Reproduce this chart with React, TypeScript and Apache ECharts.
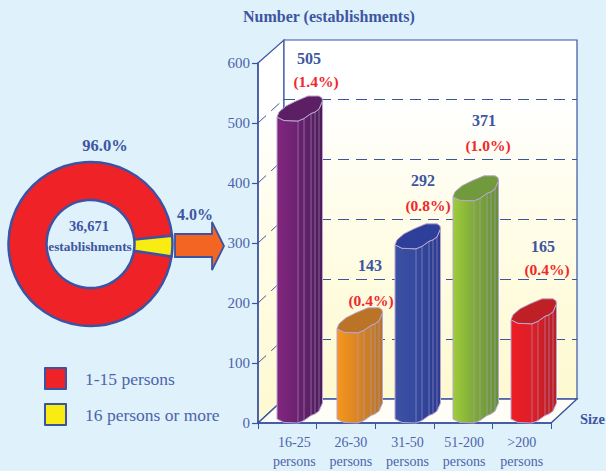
import React, { useEffect, useRef } from "react";
import * as echarts from "echarts";

const categories = ["16-25\npersons", "26-30\npersons", "31-50\npersons", "51-200\npersons", ">200\npersons"];
const values = [505, 143, 292, 371, 165];
const shares = ["(1.4%)", "(0.4%)", "(0.8%)", "(1.0%)", "(0.4%)"];
// Heights of the drawn columns as read against the axis.
const drawnHeights = [510, 157, 297, 377, 172];
const yTicks = [100, 200, 300, 400, 500];
const pieNames = ["1-15 persons", "16 persons or more"];
const pieValues = [96, 4];
const pieLabels = ["96.0%", "4.0%"];
const totalLabel = "36,671";
const totalUnit = "establishments";

const BG = "#dff1fa";
const BLUE = "#3b53a4";
const TXT = "#4c64ad";
const BOLD = "#3d55a2";
const RED = "#f0282d";
const SERIF = "'Liberation Serif', 'Times New Roman', serif";

const GL = 258, GT = 63, GW = 293, GH = 360;
const DX = 26, DY = -24;
const backL = GL + DX, backR = GL + GW + DX, backT = 40, backB = GT + GH + DY;

const barPalette = [
  { a: "#82267f", b: "#6b2270", c: "#4d1c5a", top: "#5c1f63" },
  { a: "#f7961d", b: "#d98524", c: "#b5742a", top: "#bb7427" },
  { a: "#3c51a3", b: "#344a9f", c: "#2a3a90", top: "#2e3f9a" },
  { a: "#9fcd3a", b: "#80aa3b", c: "#64903a", top: "#709a3c" },
  { a: "#ee1c25", b: "#dc1f27", c: "#b81f28", top: "#be2026" },
];
const labelLayout = [
  [309, 58, 316, 81],
  [370, 265, 371, 300],
  [423, 180, 428, 205],
  [484, 120, 488, 145],
  [543, 246, 547, 269],
];
const labelPad = [14, 10, 6, 2, 0];
const barOffsets = [-10.3, -8.9, -9.5, -10.1, -10.7];

const frontArc = [[0, 0], [7, 3.5], [21, 4], [27, 1.5], [34, -3.5], [38, -5], [42, -8], [45.5, -16]];
const backArc = [[45, -19], [42, -21], [31, -21], [19, -16], [9, -11], [2, -5]];
const stripes = [2, 3, 4, 5, 6];

function renderBar(params: any, api: any) {
  const i = api.value(0);
  const h = api.value(1);
  const [cx, topY] = api.coord([i, h]);
  const [, zeroY] = api.coord([i, 0]);
  const x = cx + barOffsets[i];
  const baseY = zeroY - 4;
  const p = barPalette[i];
  const stroke = "#b9a5d0";
  const body = [
    ...frontArc.map(([dx, dy]) => [x + dx, topY + dy]),
    ...frontArc.slice().reverse().map(([dx, dy]) => [x + dx, baseY + dy]),
  ];
  const children: any[] = [
    {
      type: "polygon",
      shape: { points: body },
      style: {
        fill: new echarts.graphic.LinearGradient(0, 0, 1, 0, [
          { offset: 0, color: p.a },
          { offset: 0.45, color: p.b },
          { offset: 1, color: p.c },
        ]),
        stroke,
        lineWidth: 1,
      },
    },
    ...stripes.map((k) => ({
      type: "polyline",
      shape: {
        points: [
          [x + frontArc[k][0], topY + frontArc[k][1]],
          [x + frontArc[k][0], baseY + frontArc[k][1]],
        ],
      },
      style: { stroke, lineWidth: 0.7, fill: "none", opacity: 0.75 },
    })),
    {
      type: "polygon",
      shape: {
        points: [...frontArc, ...backArc].map(([dx, dy]) => [x + dx, topY + dy]),
      },
      style: { fill: p.top, stroke, lineWidth: 1 },
    },
    {
      type: "text",
      style: {
        text: String(values[i]),
        x: labelLayout[i][0],
        y: labelLayout[i][1],
        fill: BOLD,
        fontFamily: SERIF,
        fontWeight: "bold",
        fontSize: 16,
        align: "center",
        verticalAlign: "middle",
      },
    },
    {
      type: "text",
      style: {
        text: shares[i],
        x: labelLayout[i][2],
        y: labelLayout[i][3],
        fill: RED,
        fontFamily: SERIF,
        fontWeight: "bold",
        fontSize: 15.5,
        align: "center",
        verticalAlign: "middle",
      },
    },
  ];
  return { type: "group", children };
}

function renderGridLine(params: any, api: any) {
  const v = api.value(1);
  const [, y] = api.coord([0, v]);
  const style = { stroke: BLUE, lineWidth: 1, lineDash: [11, 7], fill: "none" };
  const by = Math.floor(y + DY) + 0.5;
  return {
    type: "group",
    children: [
      { type: "polyline", shape: { points: [[GL, y], [GL + DX, y + DY]] }, style },
      { type: "polyline", shape: { points: [[backL, by], [backR, by]] }, style },
    ],
  };
}

const wallFill = {
  type: "linear",
  x: 0,
  y: 0,
  x2: 0,
  y2: 1,
  colorStops: [
    { offset: 0, color: "#ffffff" },
    { offset: 0.18, color: "#ffffff" },
    { offset: 0.5, color: "#fffde8" },
    { offset: 1, color: "#fdf9d0" },
  ],
};

export default function App() {
  const ref = useRef<HTMLDivElement>(null);
  useEffect(() => {
    const chart = echarts.init(ref.current!, undefined, { renderer: "svg" });
    const text = (t: string, x: number, y: number, size: number, fill: string, bold = true, align = "center") => ({
      type: "text",
      z: 10,
      style: {
        text: t,
        x,
        y,
        fill,
        fontFamily: SERIF,
        fontWeight: bold ? "bold" : "normal",
        fontSize: size,
        align,
        verticalAlign: "middle",
      },
    });
    chart.setOption({
      animation: false,
      backgroundColor: BG,
      grid: { left: GL, top: GT, width: GW, height: GH, containLabel: false },
      legend: {
        orient: "vertical",
        left: 39,
        top: 362,
        icon: "rect",
        itemWidth: 21,
        itemHeight: 21,
        itemGap: 13,
        data: pieNames,
        textStyle: {
          color: TXT,
          fontFamily: SERIF,
          fontSize: 17.5,
          padding: [0, 0, 0, 14],
        },
      },
      xAxis: {
        type: "category",
        data: categories.map((c, i) => ({
          value: c,
          textStyle: { padding: [0, 0, 0, labelPad[i]] },
        })),
        z: 1,
        axisLine: { lineStyle: { color: BLUE, width: 1.5 } },
        axisTick: { show: true, length: 6, lineStyle: { color: BLUE, width: 1 } },
        axisLabel: {
          color: TXT,
          fontFamily: SERIF,
          fontSize: 14,
          lineHeight: 19,
          margin: 10,
          interval: 0,
        },
      },
      yAxis: {
        type: "value",
        min: 0,
        max: 600,
        interval: 100,
        z: 1,
        splitLine: { show: false },
        axisLine: { show: true, lineStyle: { color: BLUE, width: 1.5 } },
        axisTick: { show: true, length: 6, lineStyle: { color: BLUE, width: 1.2 } },
        axisLabel: { color: TXT, fontFamily: SERIF, fontSize: 15, margin: 8, padding: [3, 0, 0, 0] },
      },
      graphic: [
        {
          type: "polygon",
          z: -1,
          shape: { points: [[GL, GT], [backL, backT], [backL, backB], [GL, GT + GH]] },
          style: { fill: wallFill, stroke: BLUE, lineWidth: 1.2 },
        },
        {
          type: "rect",
          z: -1,
          shape: { x: backL, y: backT, width: backR - backL, height: backB - backT },
          style: { fill: wallFill, stroke: BLUE, lineWidth: 1.2 },
        },
        {
          type: "polygon",
          z: -1,
          shape: { points: [[GL, GT + GH], [backL, backB], [backR, backB], [GL + GW, GT + GH]] },
          style: { fill: "#fffef6", stroke: BLUE, lineWidth: 1.4 },
        },
        {
          type: "polygon",
          z: 3,
          shape: {
            points: [[175, 234], [212, 234], [212, 222], [224, 246], [212, 270], [212, 257], [175, 257]],
          },
          style: { fill: "#f26522", stroke: BLUE, lineWidth: 1.8 },
        },
        text("Number (establishments)", 243, 16, 16, BOLD, true, "left"),
        text("Size", 580, 419, 14.5, BOLD, true, "left"),
        text(pieLabels[0], 105, 145, 16.5, BOLD),
        text(pieLabels[1], 195, 214, 16, BOLD),
        text(totalLabel, 89, 226, 14.5, BOLD),
        text(totalUnit, 90, 246, 13.3, BOLD),
      ],
      series: [
        {
          type: "custom",
          coordinateSystem: "cartesian2d",
          renderItem: renderGridLine,
          data: yTicks.map((v) => [0, v]),
          clip: false,
          silent: true,
          z: 1,
        },
        {
          type: "custom",
          coordinateSystem: "cartesian2d",
          renderItem: renderBar,
          data: drawnHeights.map((h, i) => [i, h]),
          clip: false,
          silent: true,
          z: 3,
        },
        {
          type: "pie",
          center: [90.5, 244],
          radius: [44, 82],
          startAngle: 351.3,
          clockwise: true,
          silent: true,
          label: { show: false },
          labelLine: { show: false },
          itemStyle: { borderColor: BLUE, borderWidth: 2.5 },
          data: [
            { name: pieNames[0], value: pieValues[0], itemStyle: { color: "#ee2227" } },
            { name: pieNames[1], value: pieValues[1], itemStyle: { color: "#f9ec12" } },
          ],
        },
      ],
    });
    return () => chart.dispose();
  }, []);
  return (
    <div
      ref={ref}
      style={{ position: "absolute", left: 0, top: 0, width: 606, height: 471 }}
    />
  );
}
